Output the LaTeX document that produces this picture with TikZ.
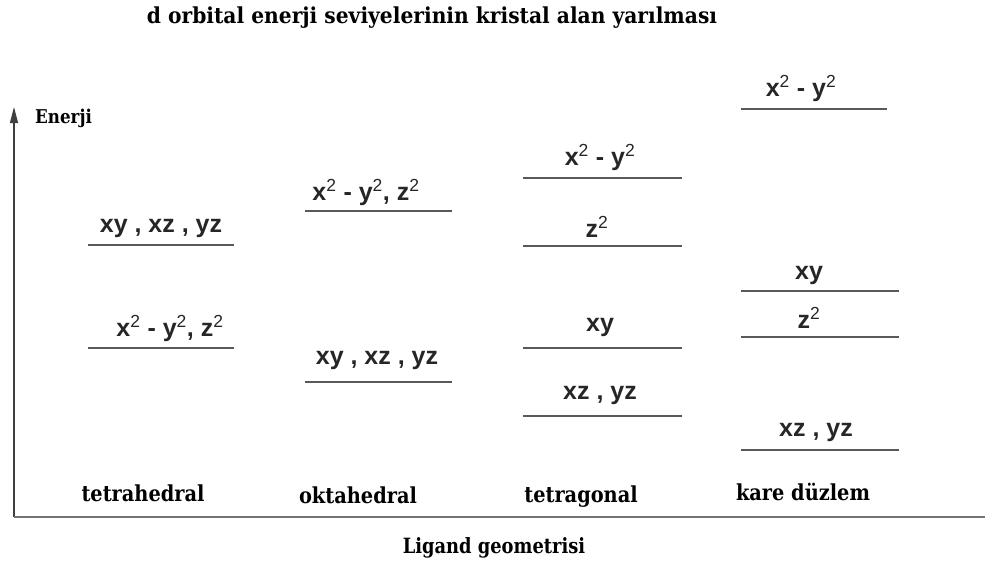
\documentclass[tikz,border=0pt]{standalone}
\usepackage{fontspec}
\setmainfont{DejaVu Serif}
\newfontfamily\catfont[FakeStretch=0.88]{DejaVu Serif}
\newfontfamily\titlefont[FakeStretch=0.92]{DejaVu Serif}
\newfontfamily\ligfont[FakeStretch=0.85]{DejaVu Serif}
\newfontfamily\lblfont{Liberation Sans}
\usetikzlibrary{arrows.meta}
\newcommand{\sq}{\textsuperscript{\mdseries 2}}
\tikzset{
  lvl/.style={draw=black!65, line width=1.6pt},
  orb/.style={font=\lblfont\bfseries\fontsize{25}{28}\selectfont, inner sep=0pt, text=black!85},
  cat/.style={font=\catfont\bfseries\fontsize{22}{24}\selectfont, inner sep=0pt},
  axisline/.style={draw=black!75, line width=1.2pt}
}
\begin{document}
\begin{tikzpicture}[x=1pt,y=-1pt]
\useasboundingbox (0,0) rectangle (985,568);
% title
\node[cat, font=\titlefont\bfseries\fontsize{22}{24}\selectfont] (title) at (432,18) {d orbital enerji seviyelerinin kristal alan yarılması};
% axes
\coordinate (origin) at (14,517);
\coordinate (ytop) at (14,107);
\coordinate (xend) at (985,517);
\draw[axisline, -{Triangle[length=16pt,width=8pt]}] (origin) -- (ytop);
\draw[axisline, draw=black!55, line width=2pt] (origin) -- (xend);
\node[cat, anchor=west, font=\catfont\bfseries\fontsize{19}{22}\selectfont] (enerji) at (35,118) {Enerji};
\node[cat, font=\ligfont\bfseries\fontsize{21}{24}\selectfont] (lig) at (494,548) {Ligand geometrisi};
% category labels
\node[cat] (tetra) at (143,493) {tetrahedral};
\node[cat] (okta) at (358,495) {oktahedral};
\node[cat] (tetrag) at (581,497) {tetragonal};
\node[cat] (kare) at (803,492) {kare düzlem};
% tetrahedral
\coordinate (t1a) at (88,245); \coordinate (t1b) at (234,245);
\coordinate (t2a) at (88,348); \coordinate (t2b) at (234,348);
\draw[lvl] (t1a) -- (t1b);
\draw[lvl] (t2a) -- (t2b);
\node[orb] (t1) at (161,228) {xy , xz , yz};
\node[orb] (t2) at (170,328) {x\sq\ - y\sq, z\sq};
% octahedral
\coordinate (o1a) at (305,211); \coordinate (o1b) at (452,211);
\coordinate (o2a) at (305,382); \coordinate (o2b) at (452,382);
\draw[lvl] (o1a) -- (o1b);
\draw[lvl] (o2a) -- (o2b);
\node[orb] (o1) at (366,192) {x\sq\ - y\sq, z\sq};
\node[orb] (o2) at (377,360) {xy , xz , yz};
% tetragonal
\coordinate (g1a) at (523,178); \coordinate (g1b) at (682,178);
\coordinate (g2a) at (523,246); \coordinate (g2b) at (682,246);
\coordinate (g3a) at (523,348); \coordinate (g3b) at (682,348);
\coordinate (g4a) at (523,416); \coordinate (g4b) at (682,416);
\draw[lvl] (g1a) -- (g1b);
\draw[lvl] (g2a) -- (g2b);
\draw[lvl] (g3a) -- (g3b);
\draw[lvl] (g4a) -- (g4b);
\node[orb] (g1) at (600,157) {x\sq\ - y\sq};
\node[orb] (g2) at (597,227) {z\sq};
\node[orb] (g3) at (600,327) {xy};
\node[orb] (g4) at (600,395) {xz , yz};
% square planar
\coordinate (k1a) at (741,109); \coordinate (k1b) at (887,109);
\coordinate (k2a) at (741,291); \coordinate (k2b) at (899,291);
\coordinate (k3a) at (741,337); \coordinate (k3b) at (899,337);
\coordinate (k4a) at (741,450); \coordinate (k4b) at (899,450);
\draw[lvl] (k1a) -- (k1b);
\draw[lvl] (k2a) -- (k2b);
\draw[lvl] (k3a) -- (k3b);
\draw[lvl] (k4a) -- (k4b);
\node[orb] (k1) at (801,88) {x\sq\ - y\sq};
\node[orb] (k2) at (809,275) {xy};
\node[orb] (k3) at (809,318) {z\sq};
\node[orb] (k4) at (816,432) {xz , yz};
\end{tikzpicture}
\end{document}
